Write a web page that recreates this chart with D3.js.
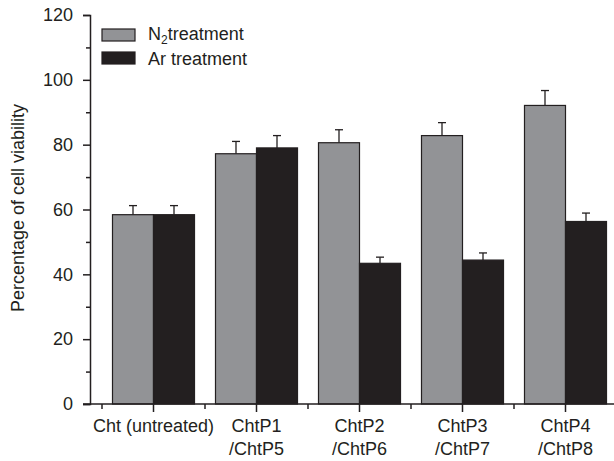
<!DOCTYPE html>
<html>
<head>
<meta charset="utf-8">
<script src="https://cdn.jsdelivr.net/npm/d3@7"></script>
<style>
  body { margin: 0; background: #fff; }
  svg { display: block; font-family: "Liberation Sans", Arial, sans-serif; }
</style>
</head>
<body>
<svg></svg>
<script>
// data
const groups = ['Cht (untreated)', 'ChtP1/ChtP5', 'ChtP2/ChtP6', 'ChtP3/ChtP7', 'ChtP4/ChtP8'];
const groupLines = [['Cht (untreated)'], ['ChtP1', '/ChtP5'], ['ChtP2', '/ChtP6'], ['ChtP3', '/ChtP7'], ['ChtP4', '/ChtP8']];
const series = ['N2', 'Ar'];
const n2Values = [58.4, 77.2, 80.6, 82.8, 92.1];
const n2Errors = [2.8, 3.8, 4.0, 4.0, 4.6];
const arValues = [58.4, 79.0, 43.4, 44.4, 56.3];
const arErrors = [2.8, 3.8, 1.9, 2.2, 2.6];
const yMajorTicks = [0, 20, 40, 60, 80, 100, 120];
const yMinorTicks = [10, 30, 50, 70, 90, 110];

const size = {w: 614, h: 461};
const colors = {N2: '#929396', Ar: '#231f20'};
const ink = '#231f20';
const fontSize = 18;

const svg = d3.select('svg')
    .attr('width', size.w)
    .attr('height', size.h);

// scales
const y = d3.scaleLinear().domain([0, 120]).range([404, 15]);
const x0 = d3.scaleBand().domain(groups).range([102, 617]).padding(0);
const x1 = d3.scaleBand().domain(series).range([0, x0.bandwidth()]).paddingInner(0).paddingOuter(0.256);

const rows = groups.map((g, i) => ({
    group: g,
    bars: [
        {key: 'N2', value: n2Values[i], err: n2Errors[i]},
        {key: 'Ar', value: arValues[i], err: arErrors[i]}
    ]
}));

// bars
const groupG = svg.append('g').selectAll('g')
    .data(rows)
    .join('g')
    .attr('transform', d => `translate(${x0(d.group)},0)`);

// error bars (upper only)
groupG.selectAll('g.err')
    .data(d => d.bars)
    .join('g')
    .classed('err', true)
    .each(function(d) {
        const cx = x1(d.key) + x1.bandwidth() / 2;
        const g = d3.select(this);
        g.append('line')
            .attr('x1', cx).attr('x2', cx)
            .attr('y1', y(d.value)).attr('y2', y(d.value + d.err))
            .attr('stroke', ink).attr('stroke-width', 1.3);
        g.append('line')
            .attr('x1', cx - 4).attr('x2', cx + 4)
            .attr('y1', y(d.value + d.err)).attr('y2', y(d.value + d.err))
            .attr('stroke', ink).attr('stroke-width', 1.3);
    });

groupG.selectAll('rect')
    .data(d => d.bars)
    .join('rect')
    .attr('x', d => x1(d.key))
    .attr('y', d => y(d.value))
    .attr('width', x1.bandwidth())
    .attr('height', d => y(0) - y(d.value))
    .attr('fill', d => colors[d.key])
    .attr('stroke', ink)
    .attr('stroke-width', 1.2);

// y axis
const yAxisG = svg.append('g')
    .attr('transform', 'translate(90,0)')
    .call(d3.axisLeft(y).tickValues(yMajorTicks).tickSize(7).tickPadding(10));
yAxisG.select('.domain').attr('stroke', ink).attr('stroke-width', 1.5);
yAxisG.selectAll('.tick line').attr('stroke', ink).attr('stroke-width', 1.5);
yAxisG.selectAll('.tick text')
    .attr('font-size', fontSize)
    .attr('fill', ink)
    .attr('font-family', '"Liberation Sans", Arial, sans-serif');

const yMinorG = svg.append('g')
    .attr('transform', 'translate(90,0)')
    .call(d3.axisLeft(y).tickValues(yMinorTicks).tickSize(4).tickFormat(''));
yMinorG.select('.domain').remove();
yMinorG.selectAll('.tick line').attr('stroke', ink).attr('stroke-width', 1.5);

// x axis line
svg.append('line')
    .attr('x1', 83).attr('x2', size.w)
    .attr('y1', y(0)).attr('y2', y(0))
    .attr('stroke', ink).attr('stroke-width', 1.5);

// major ticks at group centres
svg.append('g').selectAll('line')
    .data(groups)
    .join('line')
    .attr('x1', d => x0(d) + x0.bandwidth() / 2)
    .attr('x2', d => x0(d) + x0.bandwidth() / 2)
    .attr('y1', y(0)).attr('y2', y(0) + 8)
    .attr('stroke', ink).attr('stroke-width', 1.5);

// minor ticks at group boundaries
svg.append('g').selectAll('line')
    .data(groups)
    .join('line')
    .attr('x1', d => x0(d))
    .attr('x2', d => x0(d))
    .attr('y1', y(0)).attr('y2', y(0) + 5)
    .attr('stroke', ink).attr('stroke-width', 1.5);

// x labels
svg.append('g').selectAll('text')
    .data(groups.map((g, i) => ({g, lines: groupLines[i]})))
    .join('text')
    .attr('text-anchor', 'middle')
    .attr('font-size', fontSize)
    .attr('fill', ink)
    .attr('transform', d => `translate(${x0(d.g) + x0.bandwidth() / 2},432)`)
    .selectAll('tspan')
    .data(d => d.lines)
    .join('tspan')
    .attr('x', 0)
    .attr('y', (d, i) => i * 23)
    .text(d => d);

// y label
svg.append('text')
    .attr('transform', 'translate(24,208) rotate(-90)')
    .attr('text-anchor', 'middle')
    .attr('font-size', fontSize)
    .attr('fill', ink)
    .text('Percentage of cell viability');

// legend
const legend = svg.append('g');
const legendItems = [
    {key: 'N2', y: 29},
    {key: 'Ar', y: 52}
];
legend.selectAll('rect')
    .data(legendItems)
    .join('rect')
    .attr('x', 102).attr('y', d => d.y)
    .attr('width', 33).attr('height', 12)
    .attr('fill', d => colors[d.key])
    .attr('stroke', ink).attr('stroke-width', 1.2);

const n2Text = legend.append('text')
    .attr('x', 148).attr('y', 40)
    .attr('font-size', fontSize).attr('fill', ink);
n2Text.append('tspan').text('N');
n2Text.append('tspan').attr('font-size', 12).attr('dy', 4).text('2');
n2Text.append('tspan').attr('dy', -4).text('treatment');

legend.append('text')
    .attr('x', 148).attr('y', 65)
    .attr('font-size', fontSize).attr('fill', ink)
    .text('Ar treatment');
</script>
</body>
</html>
